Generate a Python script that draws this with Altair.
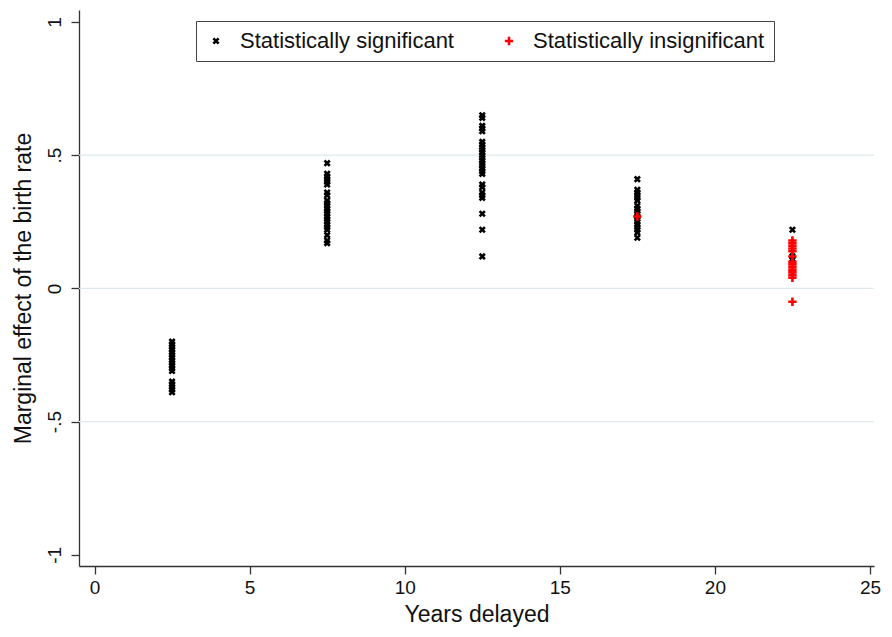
import altair as alt
import pandas as pd

# ---- data ----
groups_x = [2.5, 7.5, 12.5, 17.5, 22.5]
sig_values = [
    [-0.20, -0.21, -0.22, -0.23, -0.24, -0.25, -0.26, -0.27, -0.28, -0.29, -0.30, -0.31,
     -0.35, -0.36, -0.37, -0.38, -0.39],
    [0.47, 0.43, 0.42, 0.41, 0.40, 0.39, 0.36, 0.35, 0.33, 0.32, 0.31, 0.30, 0.29, 0.28,
     0.27, 0.26, 0.25, 0.24, 0.23, 0.22, 0.20, 0.18, 0.17],
    [0.65, 0.64, 0.61, 0.60, 0.59, 0.55, 0.54, 0.53, 0.52, 0.51, 0.50, 0.49, 0.48, 0.47,
     0.46, 0.45, 0.44, 0.43, 0.39, 0.38, 0.36, 0.35, 0.34, 0.28, 0.22, 0.12],
    [0.41, 0.37, 0.36, 0.35, 0.34, 0.33, 0.31, 0.30, 0.29, 0.28, 0.27, 0.26, 0.25, 0.24,
     0.23, 0.22, 0.21, 0.19],
    [0.22, 0.12, 0.11],
]
insig_values = [
    [],
    [],
    [],
    [0.27],
    [0.18, 0.17, 0.16, 0.15, 0.14, 0.12, 0.10, 0.09, 0.08, 0.07, 0.06, 0.05, 0.04, -0.05],
]
series_names = ["Statistically significant", "Statistically insignificant"]
series_colors = ["black", "red"]

x_ticks = [0, 5, 10, 15, 20, 25]
y_ticks = [-1, -0.5, 0, 0.5, 1]
y_tick_labels = ["-1", "-.5", "0", ".5", "1"]
grid_values = [-0.5, 0, 0.5]

rows = []
for gx, vals in zip(groups_x, sig_values):
    for v in vals:
        rows.append({"x": gx, "y": v, "s": series_names[0]})
for gx, vals in zip(groups_x, insig_values):
    for v in vals:
        rows.append({"x": gx, "y": v, "s": series_names[1]})
df = pd.DataFrame(rows)
df["o"] = range(len(df))
grid_df = pd.DataFrame({"g": grid_values})

label_expr = " : ".join(
    f"datum.value == {v} ? '{l}'" for v, l in zip(y_ticks, y_tick_labels)
) + " : ''"

FONT = "Liberation Sans"
x_scale = alt.Scale(domain=[-0.5, 25.13], nice=False, zero=False)
y_scale = alt.Scale(domain=[-1.042, 1.045], nice=False, zero=False)

grid = alt.Chart(grid_df).mark_rule(color="#dde9ed", strokeWidth=1.3).encode(
    y=alt.Y("g:Q", scale=y_scale)
)

X_PATH = "M-1,-1L1,1M1,-1L-1,1"
PLUS_PATH = "M-1,0L1,0M0,-1L0,1"

points = alt.Chart(df).mark_point(filled=False, strokeWidth=2.6, opacity=1).encode(
    x=alt.X(
        "x:Q", scale=x_scale,
        axis=alt.Axis(values=x_ticks, title="Years delayed", grid=False, format="d"),
    ),
    y=alt.Y(
        "y:Q", scale=y_scale,
        axis=alt.Axis(values=y_ticks, title="Marginal effect of the birth rate",
                      grid=False, labelExpr=label_expr, labelAngle=270,
                      labelAlign="center", labelBaseline="bottom"),
    ),
    color=alt.Color("s:N", scale=alt.Scale(domain=series_names, range=series_colors),
                    legend=alt.Legend(title=None)),
    shape=alt.Shape("s:N", scale=alt.Scale(domain=series_names, range=[X_PATH, PLUS_PATH]),
                    legend=alt.Legend(title=None)),
    size=alt.Size("s:N", scale=alt.Scale(domain=series_names, range=[28, 70]), legend=None),
    order=alt.Order("o:Q"),
)

chart = alt.layer(grid, points).properties(
    width=795,
    height=556,
    autosize=alt.AutoSizeParams(type="none"),
    padding={"left": 71, "top": 2, "right": 10, "bottom": 63},
).configure_view(stroke=None).configure_axis(
    labelFont=FONT, titleFont=FONT, labelFontSize=19, titleFontSize=23,
    labelColor="#111", titleColor="#111", titleFontWeight="normal",
    domainColor="#333", tickColor="#333", tickSize=8, domainWidth=1.3, tickWidth=1.3,
).configure_axisX(labelPadding=4, titlePadding=6).configure_axisY(
    labelPadding=7, titlePadding=10
).configure_legend(
    orient="none", legendX=117, legendY=11, direction="horizontal",
    labelFont=FONT, labelFontSize=22, labelColor="#111", labelLimit=400,
    symbolSize=60, symbolStrokeWidth=2.6, labelOffset=13, columnPadding=44,
    padding=9, strokeColor="#444", fillColor="white", cornerRadius=0,
)

chart.save("out.html", embed_options={"renderer": "svg", "actions": False})
